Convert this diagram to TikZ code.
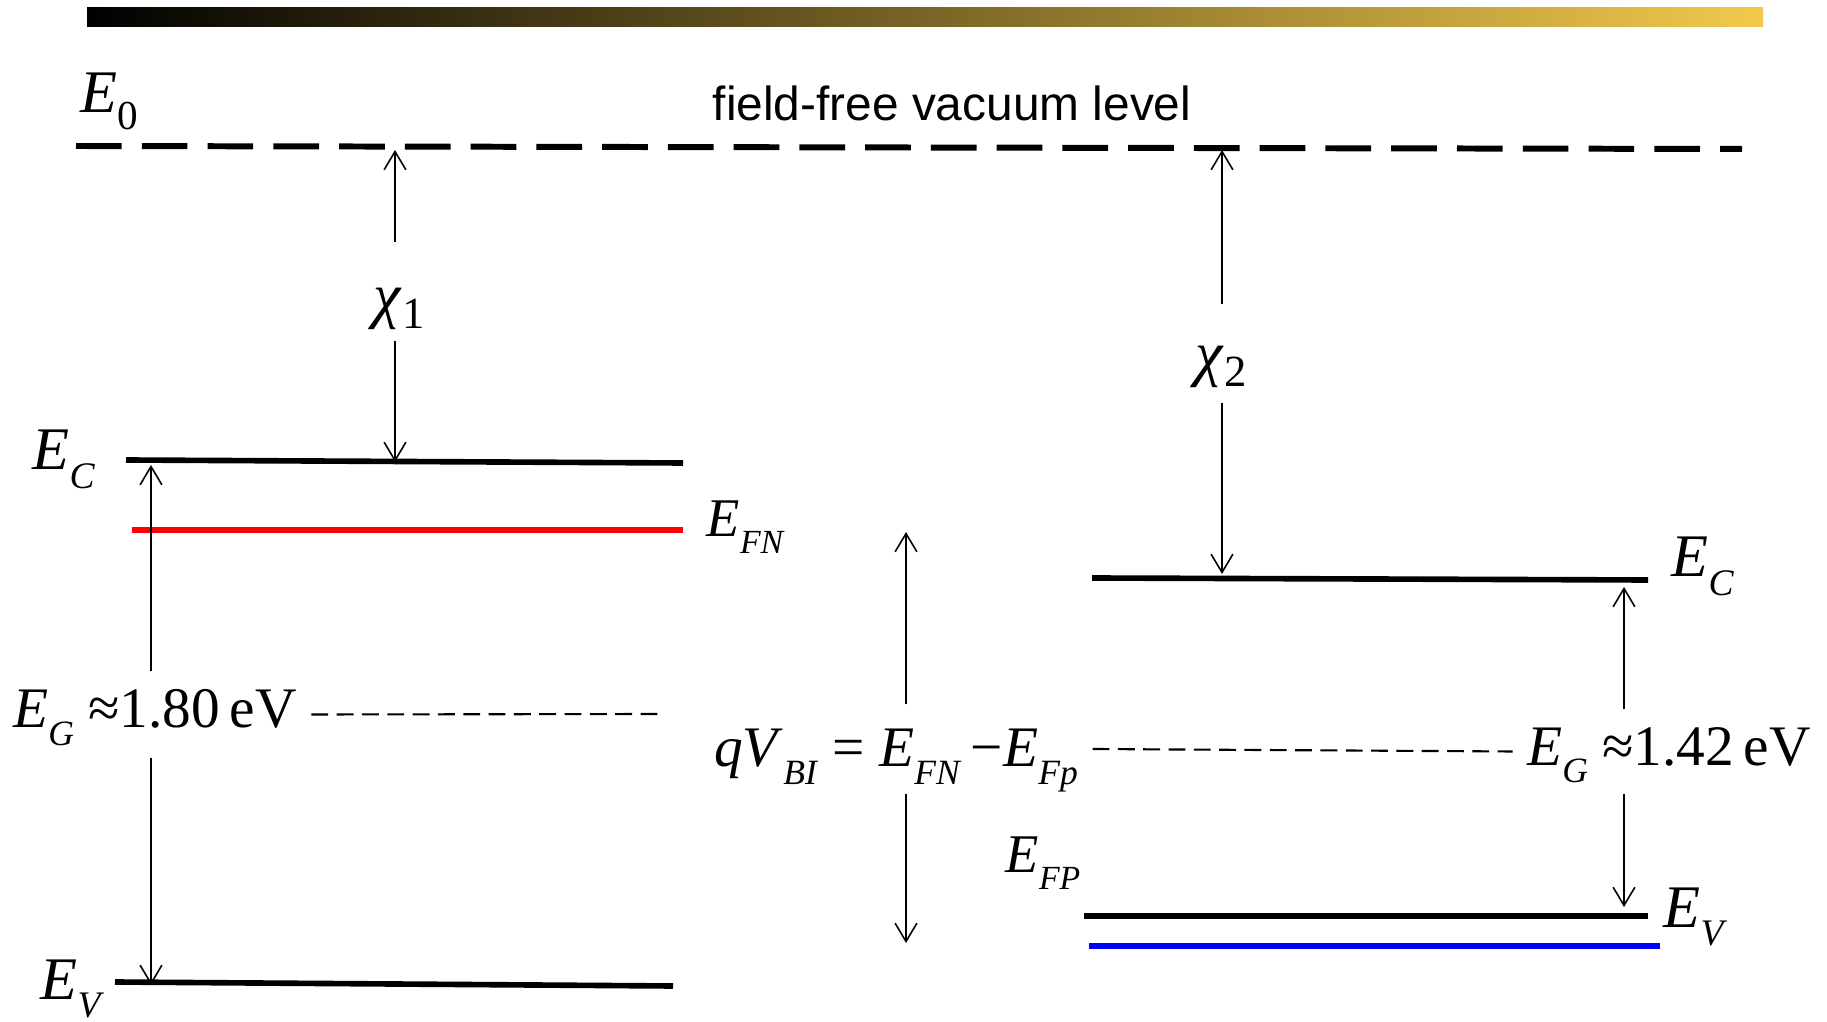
\documentclass[tikz,border=0pt]{standalone}
\usepackage{fontspec}
\setmainfont{Liberation Serif}
\newfontfamily\vacfont{Liberation Sans}
\usetikzlibrary{arrows.meta}
\definecolor{barGold}{HTML}{F2C94C}
\definecolor{barMid}{HTML}{9A7F35}
\definecolor{fnRed}{HTML}{FF0000}
\definecolor{fpBlue}{HTML}{0000FF}
\newcommand{\lvl}[2]{\textit{#1}\raisebox{-0.3em}{\scalebox{0.62}{\textit{#2}}}}
\newcommand{\chisub}[1]{\textit{χ}\raisebox{-0.18em}{\scalebox{0.72}{#1}}}

\begin{document}
\begin{tikzpicture}[x=0.01cm, y=-0.01cm,
  level/.style={line width=1.6pt},
  vacline/.style={line width=1.7pt, dash pattern=on 13pt off 5.7pt},
  guide/.style={line width=0.6pt, dash pattern=on 4.8pt off 2.4pt},
  gap/.style={-{Straight Barb[length=5.2pt,width=6.2pt]}, line width=0.45pt},
  big/.style={font=\fontsize{17.2pt}{20pt}\selectfont, inner sep=0pt, anchor=base west},
  mid/.style={font=\fontsize{15.5pt}{18pt}\selectfont, inner sep=0pt, anchor=base west},
  gaplbl/.style={inner ysep=0pt, inner xsep=4pt, anchor=base}]

  \useasboundingbox (0,0) rectangle (1827,1022);
  \shade[left color=black, middle color=barMid, right color=barGold] (87,8) rectangle (1763,27);

  % vacuum level and band edges
  \draw[vacline] (76,146) -- (1742,149);
  \draw[level] (126,460) -- (683,463);
  \draw[level, fnRed] (132,530) -- (683,530);
  \draw[level] (115,982) -- (673,986);
  \draw[level] (1092,578) -- (1648,580);
  \draw[level] (1084,916) -- (1648,916);
  \draw[level, fpBlue] (1089,946) -- (1660,946);

  \node[big] (e0) at (80,113) {\textit{E}\raisebox{-0.28em}{\scalebox{0.68}{0}}};
  \node[font=\vacfont\fontsize{13.6pt}{16pt}\selectfont, inner sep=0pt, anchor=base] (vac) at (952,121) {field-free vacuum level};
  \node[big] (ecl) at (32,470) {\lvl{E}{C}};
  \node[mid] (efn) at (706,537) {\lvl{E}{FN}};
  \node[big] (evl) at (40,999) {\lvl{E}{V}};
  \node[big] (ecr) at (1671,577) {\lvl{E}{C}};
  \node[big] (evr) at (1663,927) {\lvl{E}{V}};
  \node[mid] (efp) at (1005,873) {\lvl{E}{FP}};

  % labels that split the arrows
  \node[gaplbl, font=\fontsize{17.6pt}{20pt}\selectfont, text height=0.74cm, text depth=0.23cm] (chi1) at (399,317) {\chisub{1}};
  \node[gaplbl, font=\fontsize{17.6pt}{20pt}\selectfont, text height=0.70cm, text depth=0.27cm] (chi2) at (1221,375) {\chisub{2}};
  \node[gaplbl, font=\fontsize{16.3pt}{19pt}\selectfont, text height=0.56cm, text depth=0.29cm] (eg1) at (155,728) {\lvl{E}{G}\hspace{0.25em}≈1.80\,eV};
  \node[gaplbl, font=\fontsize{16.3pt}{19pt}\selectfont, text height=0.62cm, text depth=0.26cm] (qvbi) at (896,767) {\textit{qV}\raisebox{-0.3em}{\scalebox{0.62}{\textit{BI}}} = \lvl{E}{FN}\,−\lvl{E}{Fp}};
  \node[gaplbl, font=\fontsize{16.3pt}{19pt}\selectfont, text height=0.55cm, text depth=0.28cm] (eg2) at (1669,765) {\lvl{E}{G}\hspace{0.25em}≈1.42\,eV};

  \coordinate (vac1) at (395,150);
  \coordinate (ecl1) at (395,462);
  \coordinate (vac2) at (1222,150);
  \coordinate (ecr1) at (1222,574);
  \coordinate (ecl2) at (151,465);
  \coordinate (evl1) at (151,985);
  \coordinate (ecr2) at (1624,587);
  \coordinate (evr1) at (1624,907);
  \coordinate (qtop) at (906,532);
  \coordinate (qbot) at (906,943);
  \coordinate (guideL) at (664,714);

  \draw[gap] (chi1.north -| vac1) -- (vac1);
  \draw[gap] (chi1.south -| ecl1) -- (ecl1);
  \draw[gap] (chi2.north -| vac2) -- (vac2);
  \draw[gap] (chi2.south -| ecr1) -- (ecr1);
  \draw[gap] (eg1.north -| ecl2) -- (ecl2);
  \draw[gap] (eg1.south -| evl1) -- (evl1);
  \draw[gap] (eg2.north -| ecr2) -- (ecr2);
  \draw[gap] (eg2.south -| evr1) -- (evr1);
  \draw[gap] (qvbi.north -| qtop) -- (qtop);
  \draw[gap] (qvbi.south -| qbot) -- (qbot);

  \draw[guide] (eg1.east) -- (guideL);
  \draw[guide] (qvbi.east) -- (eg2.west);
\end{tikzpicture}
\end{document}
